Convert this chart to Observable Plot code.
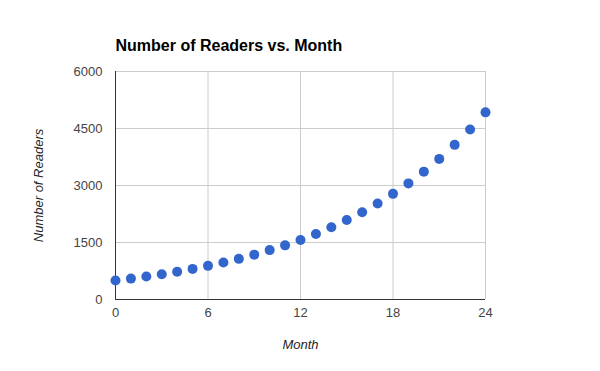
<!DOCTYPE html>
<html><head><meta charset="utf-8">
<script src="https://cdn.jsdelivr.net/npm/d3@7"></script>
<script src="https://cdn.jsdelivr.net/npm/@observablehq/plot@0.6"></script>
<style>body{margin:0;background:#fff}</style>
</head><body><div id="chart"></div>
<script>
const months = [0,1,2,3,4,5,6,7,8,9,10,11,12,13,14,15,16,17,18,19,20,21,22,23,24];
const readers = [500,550,605,665,730,805,885,975,1070,1180,1300,1425,1565,1725,1900,2090,2295,2525,2780,3055,3365,3700,4070,4475,4925];
const xTicks = [0,6,12,18,24];
const yTicks = [0,1500,3000,4500,6000];
const title = "Number of Readers vs. Month";
const xLabel = "Month";
const yLabel = "Number of Readers";

const data = months.map((m,i)=>({month:m, readers:readers[i]}));

const chart = Plot.plot({
  width:600, height:371,
  marginLeft:115, marginRight:115, marginTop:71, marginBottom:72,
  style:{fontFamily:"'Liberation Sans', Arial, sans-serif", fontSize:"13px", color:"#444", background:"#fff"},
  x:{domain:[0,24]},
  y:{domain:[0,6000]},
  marks:[
    Plot.gridX(xTicks,{stroke:"#cccccc", strokeOpacity:1}),
    Plot.gridY(yTicks,{stroke:"#cccccc", strokeOpacity:1}),
    Plot.ruleX([0],{stroke:"#333", strokeWidth:1}),
    Plot.ruleY([0],{stroke:"#333", strokeWidth:1}),
    Plot.axisX(xTicks,{tickSize:0, tickPadding:8, label:null, fill:"#444", tickFormat:d=>String(d)}),
    Plot.axisY(yTicks,{tickSize:0, tickPadding:13, label:null, fill:"#444", tickFormat:d=>String(d)}),
    Plot.dot(data,{x:"month", y:"readers", r:5, fill:"#3366cc", stroke:null}),
    Plot.text([title],{frameAnchor:"top-left", lineAnchor:"bottom", textAnchor:"start", dy:-21, fontSize:16, fontWeight:"bold", fill:"#000"}),
    Plot.text([xLabel],{frameAnchor:"bottom", lineAnchor:"middle", textAnchor:"middle", dy:45, fontStyle:"italic", fill:"#222"}),
    Plot.text([yLabel],{frameAnchor:"left", lineAnchor:"middle", textAnchor:"middle", dx:-77, rotate:-90, fontStyle:"italic", fill:"#222"})
  ]
});
document.getElementById("chart").append(chart);
</script></body></html>
